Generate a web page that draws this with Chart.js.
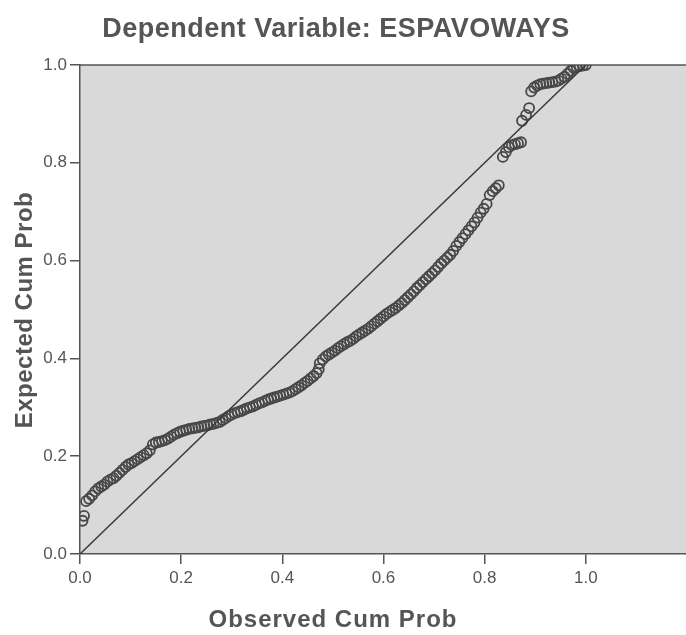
<!DOCTYPE html>
<html>
<head>
<meta charset="utf-8">
<script src="https://cdn.jsdelivr.net/npm/chart.js@4/dist/chart.umd.min.js"></script>
<style>
  html, body { margin: 0; padding: 0; background: #fff; overflow: hidden; }
  canvas { display: block; }
</style>
</head>
<body>
<canvas id="ppChart" width="700" height="635"></canvas>
<script>
const chartTitle = 'Dependent Variable: ESPAVOWAYS';
const xTitle = 'Observed Cum Prob';
const yTitle = 'Expected Cum Prob';

// observed cumulative probability (x) and expected (y)
const observedCum = [
  0.005, 0.008, 0.012, 0.018, 0.024, 0.030, 0.036, 0.042, 0.048, 0.054,
  0.060, 0.066, 0.072, 0.078, 0.084, 0.090, 0.096, 0.102, 0.108, 0.114,
  0.120, 0.126, 0.132, 0.138, 0.144, 0.150, 0.156, 0.162, 0.168, 0.174,
  0.180, 0.186, 0.192, 0.198, 0.204, 0.210, 0.216, 0.222, 0.228, 0.234,
  0.240, 0.246, 0.252, 0.258, 0.264, 0.270, 0.276, 0.282, 0.288, 0.294,
  0.300, 0.306, 0.312, 0.318, 0.324, 0.330, 0.336, 0.342, 0.348, 0.354,
  0.360, 0.366, 0.372, 0.378, 0.384, 0.390, 0.396, 0.402, 0.408, 0.414,
  0.420, 0.426, 0.432, 0.438, 0.444, 0.450, 0.456, 0.462, 0.468, 0.472,
  0.474, 0.480, 0.486, 0.492, 0.498, 0.504, 0.510, 0.516, 0.522, 0.528,
  0.534, 0.540, 0.546, 0.552, 0.558, 0.564, 0.570, 0.576, 0.582, 0.588,
  0.594, 0.600, 0.606, 0.612, 0.618, 0.624, 0.630, 0.636, 0.642, 0.648,
  0.654, 0.660, 0.666, 0.672, 0.678, 0.684, 0.690, 0.696, 0.702, 0.708,
  0.714, 0.720, 0.726, 0.732, 0.738, 0.744, 0.750, 0.756, 0.762, 0.768,
  0.774, 0.780, 0.786, 0.792, 0.798, 0.804, 0.810, 0.816, 0.822, 0.828,
  0.836, 0.842, 0.848, 0.854, 0.860, 0.866, 0.872, 0.874, 0.882, 0.888,
  0.892, 0.898, 0.904, 0.910, 0.916, 0.922, 0.928, 0.934, 0.940, 0.946,
  0.952, 0.958, 0.964, 0.970, 0.976, 0.982, 0.988, 0.994, 1.000
];
const expectedCum = [
  0.068, 0.078, 0.108, 0.113, 0.120, 0.128, 0.134, 0.138, 0.142, 0.148,
  0.152, 0.155, 0.160, 0.166, 0.172, 0.178, 0.183, 0.186, 0.190, 0.194,
  0.198, 0.202, 0.206, 0.212, 0.224, 0.228, 0.229, 0.231, 0.233, 0.236,
  0.240, 0.244, 0.247, 0.250, 0.252, 0.254, 0.256, 0.257, 0.258, 0.259,
  0.261, 0.262, 0.263, 0.265, 0.266, 0.268, 0.270, 0.274, 0.278, 0.282,
  0.285, 0.288, 0.290, 0.292, 0.295, 0.298, 0.300, 0.302, 0.305, 0.308,
  0.310, 0.313, 0.316, 0.318, 0.320, 0.322, 0.324, 0.326, 0.328, 0.330,
  0.333, 0.337, 0.341, 0.345, 0.350, 0.354, 0.359, 0.364, 0.370, 0.378,
  0.390, 0.398, 0.404, 0.408, 0.412, 0.416, 0.421, 0.425, 0.429, 0.433,
  0.436, 0.440, 0.445, 0.449, 0.453, 0.457, 0.461, 0.466, 0.471, 0.476,
  0.481, 0.486, 0.491, 0.495, 0.499, 0.503, 0.508, 0.513, 0.519, 0.525,
  0.531, 0.537, 0.544, 0.550, 0.556, 0.562, 0.568, 0.574, 0.580, 0.587,
  0.594, 0.600, 0.606, 0.612, 0.620, 0.630, 0.638, 0.646, 0.654, 0.662,
  0.670, 0.678, 0.688, 0.698, 0.706, 0.716, 0.734, 0.742, 0.748, 0.754,
  0.812, 0.822, 0.832, 0.836, 0.838, 0.840, 0.842, 0.886, 0.898, 0.912,
  0.946, 0.954, 0.958, 0.961, 0.962, 0.963, 0.964, 0.965, 0.966, 0.968,
  0.972, 0.976, 0.982, 0.988, 0.994, 0.996, 0.998, 0.999, 1.000
];

// reference diagonal
const refLineX = [0, 1];
const refLineY = [0, 1];

const axisColor = '#555555';
const textColor = '#555555';
const fontFamily = '"Liberation Sans", Arial, sans-serif';

const plotBackground = {
    id: 'plotBackground',
    beforeDraw(chart) {
        const { ctx, chartArea: a } = chart;
        ctx.save();
        ctx.fillStyle = '#d9d9d9';
        ctx.fillRect(a.left, a.top, a.right - a.left, a.bottom - a.top);
        ctx.strokeStyle = axisColor;
        ctx.lineWidth = 1.5;
        ctx.beginPath();
        ctx.moveTo(a.left, a.top);
        ctx.lineTo(a.right, a.top);
        ctx.stroke();
        ctx.restore();
    }
};

// titles are drawn by hand so they can sit where the original has them
const titleText = {
    id: 'titleText',
    afterDraw(chart) {
        const ctx = chart.ctx;
        ctx.save();
        ctx.fillStyle = textColor;
        ctx.textAlign = 'center';
        ctx.textBaseline = 'alphabetic';

        ctx.font = 'bold 27px ' + fontFamily;
        ctx.letterSpacing = '0.5px';
        ctx.fillText(chartTitle, 336, 37);

        ctx.font = 'bold 24px ' + fontFamily;
        ctx.letterSpacing = '1px';
        ctx.fillText(xTitle, 333, 627);

        ctx.letterSpacing = '0.5px';
        ctx.translate(32, 310);
        ctx.rotate(-Math.PI / 2);
        ctx.fillText(yTitle, 0, 0);
        ctx.restore();
    }
};

const ppCanvas = document.getElementById('ppChart').getContext('2d');
const ppChart = new Chart(ppCanvas, {
    type: 'scatter',
    data: {
        datasets: [{
            label: 'Reference',
            data: refLineX.map((x, i) => ({ x: x, y: refLineY[i] })),
            showLine: true,
            borderColor: '#3a3a3a',
            borderWidth: 1.5,
            pointRadius: 0
        }, {
            label: 'Observed',
            data: observedCum.map((x, i) => ({ x: x, y: expectedCum[i] })),
            pointStyle: 'circle',
            pointRadius: 5,
            backgroundColor: 'rgba(0,0,0,0)',
            borderColor: '#474747',
            borderWidth: 1.8
        }]
    },
    options: {
        responsive: false,
        animation: false,
        layout: { padding: { top: 65, right: 8, bottom: 0, left: 0 } },
        plugins: {
            legend: { display: false },
            title: { display: false },
            tooltip: { enabled: false }
        },
        scales: {
            x: {
                type: 'linear',
                min: 0,
                max: 1.21,
                afterFit: (scale) => { scale.height = 81; },
                border: { display: true, color: axisColor, width: 1.5 },
                grid: { drawOnChartArea: false, drawTicks: true, tickLength: 10, color: axisColor, lineWidth: 1.5 },
                ticks: {
                    stepSize: 0.2,
                    includeBounds: false,
                    padding: 4,
                    color: textColor,
                    font: { family: fontFamily, size: 17 },
                    callback: (v) => v <= 1.0001 ? v.toFixed(1) : ''
                }
            },
            y: {
                type: 'linear',
                min: 0,
                max: 1,
                afterFit: (scale) => { scale.width = 80; },
                border: { display: true, color: axisColor, width: 1.5 },
                grid: { drawOnChartArea: false, drawTicks: true, tickLength: 10, color: axisColor, lineWidth: 1.5 },
                ticks: {
                    stepSize: 0.2,
                    padding: 3,
                    color: textColor,
                    font: { family: fontFamily, size: 17 },
                    callback: (v) => v.toFixed(1)
                }
            }
        }
    },
    plugins: [plotBackground, titleText]
});
</script>
</body>
</html>
